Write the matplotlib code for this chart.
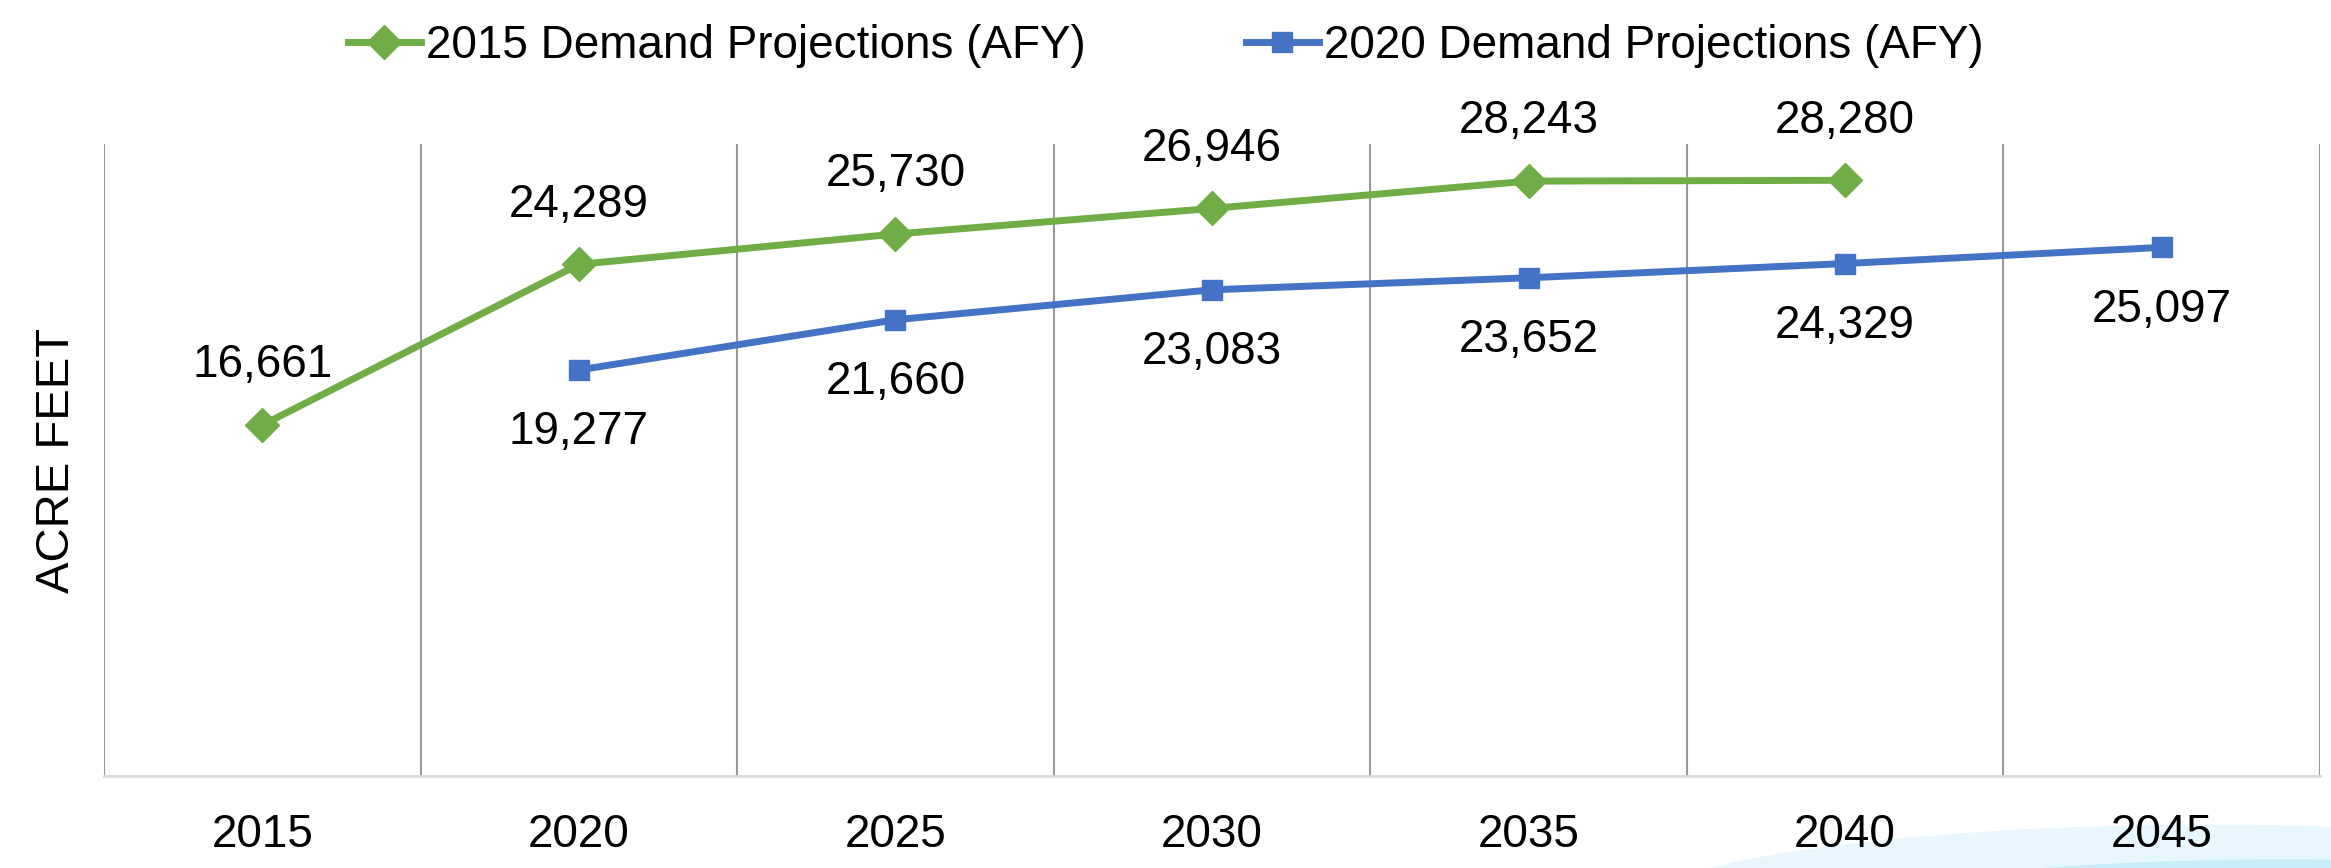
import matplotlib.pyplot as plt
from matplotlib.patches import Ellipse

plt.rcParams['font.family'] = ['Liberation Sans', 'DejaVu Sans']

years = ['2015', '2020', '2025', '2030', '2035', '2040', '2045']
demand_2015 = [16661, 24289, 25730, 26946, 28243, 28280]
demand_2020 = [19277, 21660, 23083, 23652, 24329, 25097]
x_2015 = [0, 1, 2, 3, 4, 5]
x_2020 = [1, 2, 3, 4, 5, 6]

GREEN = '#70AD47'
BLUE = '#4472C4'

fig = plt.figure(figsize=(23.31, 8.68), dpi=100)

# faint background swoosh at the bottom right
bg = fig.add_axes([0, 0, 1, 1], zorder=-1)
bg.set_xlim(0, 1)
bg.set_ylim(0, 1)
bg.axis('off')
bg.add_patch(Ellipse((0.95, -0.05), 0.50, 0.20, facecolor='#e8f7fd', edgecolor='none'))
bg.add_patch(Ellipse((0.98, -0.06), 0.40, 0.14, facecolor='#c9ecf9', edgecolor='none'))

ax = fig.add_axes([0.0446, 0.106, 0.9507, 0.728])
ax.patch.set_alpha(0)

ax.plot(x_2015, demand_2015, color=GREEN, lw=5, marker='D', ms=17, label='2015 Demand Projections (AFY)', zorder=3)
ax.plot(x_2020, demand_2020, color=BLUE, lw=5, marker='s', ms=14, label='2020 Demand Projections (AFY)', zorder=3)

for xi, v in zip(x_2015, demand_2015):
  ax.annotate(f'{v:,}', (xi, v), xytext=(0, 43), textcoords='offset points',
              ha='center', va='center', fontsize=33)
for xi, v in zip(x_2020, demand_2020):
  ax.annotate(f'{v:,}', (xi, v), xytext=(0, -45), textcoords='offset points',
              ha='center', va='center', fontsize=33)

ax.set_xlim(-0.5, 6.5)
ax.set_ylim(0, 30000)
ax.set_xticks(range(len(years)))
ax.set_xticklabels(years, fontsize=33)
ax.tick_params(axis='x', length=0, pad=27)
ax.set_yticks([])

# vertical separators between categories
for b in [i - 0.5 for i in range(len(years) + 1)]:
  ax.axvline(b, color='#999999', lw=1.5, zorder=1)

for s in ['top', 'left', 'right']:
  ax.spines[s].set_visible(False)
ax.spines['bottom'].set_color('#d9d9d9')
ax.spines['bottom'].set_linewidth(2)

ax.set_ylabel('ACRE FEET', fontsize=34, labelpad=18)

fig.legend(loc='upper center', bbox_to_anchor=(0.5, 1.02), ncol=2, frameon=False,
           fontsize=33, handlelength=1.6, handletextpad=0.1, columnspacing=3.5)

plt.savefig('out.png', dpi=100)
